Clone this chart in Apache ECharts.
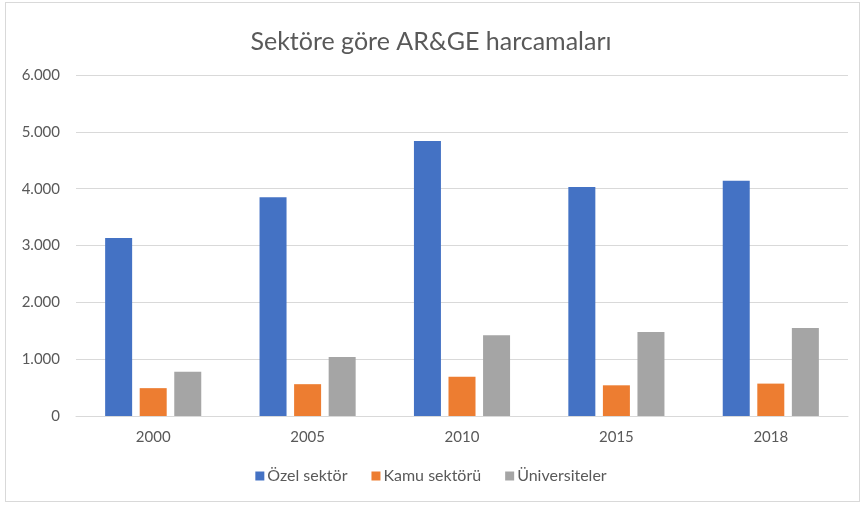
<!DOCTYPE html>
<html>
<head>
<meta charset="utf-8">
<script src="https://cdn.jsdelivr.net/npm/echarts@6/dist/echarts.min.js"></script>
<style>
  html, body { margin: 0; padding: 0; background: #fff; }
  #chart { width: 862px; height: 509px; position: relative; }
  #frame { position: absolute; left: 5px; top: 2px; width: 853px; height: 498px;
           border: 1px solid #d9d9d9; pointer-events: none; }
</style>
</head>
<body>
<div id="chart"></div>
<div id="frame"></div>
<script>
var years = ['2000', '2005', '2010', '2015', '2018'];
var ozel = [3130, 3850, 4840, 4030, 4140];
var kamu = [490, 560, 690, 540, 570];
var universite = [780, 1040, 1420, 1480, 1550];
var seriesNames = ['Özel sektör', 'Kamu sektörü', 'Üniversiteler'];

var dom = document.getElementById('chart');
var myChart = echarts.init(dom);
var font = 'Lato, "Open Sans", sans-serif';

function trThousands(v) {
    return String(v).replace(/\B(?=(\d{3})+(?!\d))/g, '.');
}

var option = {
    animation: false,
    textStyle: { fontFamily: font },
    title: {
        text: 'Sektöre göre AR&GE harcamaları',
        left: 'center',
        top: 24,
        textStyle: { fontFamily: font, fontSize: 25, fontWeight: 'normal', color: '#595959' }
    },
    legend: {
        data: seriesNames,
        bottom: 20,
        left: 'center',
        itemWidth: 9,
        itemHeight: 9,
        itemGap: 24,
        icon: 'rect',
        textStyle: { fontFamily: font, fontSize: 16, color: '#595959', padding: [0, 0, 0, -2] }
    },
    grid: { left: 76, right: 14, top: 75, bottom: 93 },
    xAxis: [{
        type: 'category',
        data: years,
        axisTick: { show: false },
        axisLine: { lineStyle: { color: '#d9d9d9' } },
        axisLabel: { fontFamily: font, fontSize: 15, color: '#595959', margin: 14 }
    }],
    yAxis: [{
        type: 'value',
        min: 0,
        max: 6000,
        interval: 1000,
        axisLine: { show: false },
        axisTick: { show: false },
        splitLine: { lineStyle: { color: '#d9d9d9' } },
        axisLabel: {
            fontFamily: font, fontSize: 15, color: '#595959', margin: 16,
            formatter: trThousands
        }
    }],
    series: [
        { name: seriesNames[0], type: 'bar', data: ozel, barWidth: 27, barGap: '28%',
          itemStyle: { color: '#4472C4' } },
        { name: seriesNames[1], type: 'bar', data: kamu, barWidth: 27, barGap: '28%',
          itemStyle: { color: '#ED7D31' } },
        { name: seriesNames[2], type: 'bar', data: universite, barWidth: 27, barGap: '28%',
          itemStyle: { color: '#A5A5A5' } }
    ]
};
if (option && typeof option === "object") {
    myChart.setOption(option, true);
}
</script>
</body>
</html>
